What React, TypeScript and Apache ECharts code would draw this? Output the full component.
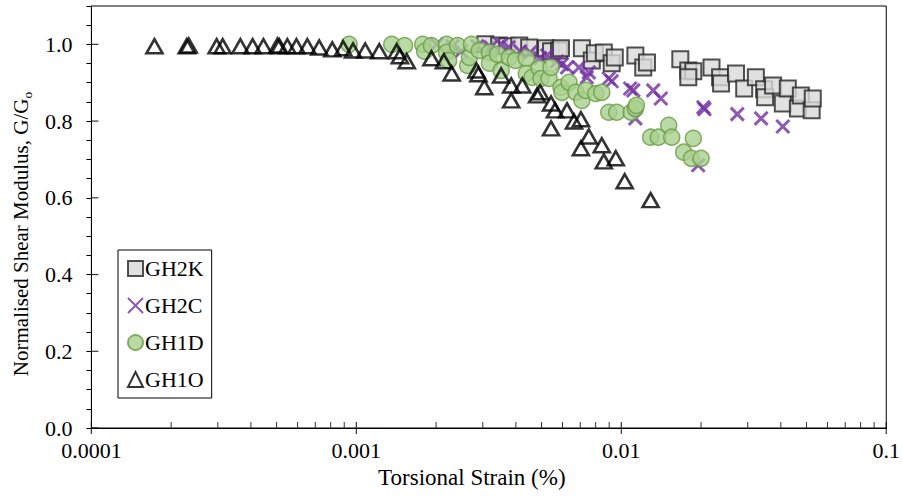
import React, { useEffect, useRef } from "react";
import * as echarts from "echarts";

// [torsional strain (%), G/Go]
const GH2K: [number, number][] = [
  [0.00307, 1.0], [0.00346, 0.997], [0.00371, 0.995], [0.00412, 0.997], [0.00449, 0.992],
  [0.0052, 0.99], [0.00543, 0.982], [0.00582, 0.984], [0.00592, 0.99], [0.0071, 0.99],
  [0.00774, 0.958], [0.00795, 0.977], [0.00859, 0.979], [0.0092, 0.951], [0.00945, 0.966],
  [0.0113, 0.971], [0.0121, 0.94], [0.0125, 0.953], [0.0167, 0.961], [0.0179, 0.932],
  [0.0187, 0.93], [0.0179, 0.914], [0.0219, 0.94], [0.0236, 0.914], [0.0238, 0.898],
  [0.0271, 0.924], [0.0291, 0.885], [0.0322, 0.914], [0.0346, 0.883], [0.0349, 0.862],
  [0.0374, 0.893], [0.0407, 0.846], [0.0425, 0.885], [0.0464, 0.833], [0.0476, 0.867],
  [0.0523, 0.828], [0.0528, 0.859],
];

const GH2C: [number, number][] = [
  [0.00201, 1.0], [0.00231, 0.995], [0.00249, 0.982], [0.00286, 0.995], [0.00321, 0.992],
  [0.00352, 1.0], [0.00375, 0.992], [0.00415, 0.982], [0.00453, 0.979], [0.00494, 0.964],
  [0.00525, 0.971], [0.00572, 0.956], [0.00597, 0.948], [0.00624, 0.94], [0.00692, 0.94],
  [0.00754, 0.927], [0.00741, 0.914], [0.00897, 0.911], [0.0092, 0.904], [0.0108, 0.885],
  [0.0111, 0.88], [0.0113, 0.807], [0.0132, 0.88], [0.0141, 0.859], [0.0195, 0.685],
  [0.0204, 0.836], [0.0206, 0.831], [0.0274, 0.818], [0.0337, 0.807], [0.0407, 0.786],
];

const GH1D: [number, number][] = [
  [0.000939, 1.0], [0.00136, 1.0], [0.00152, 0.997], [0.00178, 1.0], [0.00181, 0.982],
  [0.00192, 0.997], [0.00219, 1.0], [0.00219, 0.979], [0.00223, 0.958], [0.00241, 0.997],
  [0.00263, 0.945], [0.00267, 0.966], [0.00272, 1.0], [0.00291, 0.984], [0.00318, 0.979],
  [0.00318, 0.951], [0.00341, 0.974], [0.00352, 0.932], [0.00378, 0.966], [0.00398, 0.958],
  [0.00438, 0.964], [0.00438, 0.924], [0.00461, 0.914], [0.0049, 0.938], [0.00498, 0.911],
  [0.00534, 0.911], [0.00543, 0.94], [0.00592, 0.888], [0.00597, 0.875], [0.00635, 0.901],
  [0.00674, 0.875], [0.0071, 0.854], [0.00735, 0.88], [0.00801, 0.872], [0.00844, 0.875],
  [0.00897, 0.823], [0.00961, 0.823], [0.0109, 0.823], [0.0113, 0.833], [0.0114, 0.841],
  [0.0129, 0.758], [0.0138, 0.758], [0.0151, 0.789], [0.0155, 0.758], [0.0187, 0.755],
  [0.0172, 0.719], [0.0184, 0.703], [0.02, 0.703],
];

const GH1O: [number, number][] = [
  [0.000173, 0.995], [0.000229, 0.995], [0.000233, 0.997], [0.000297, 0.995], [0.000313, 0.995],
  [0.000365, 0.995], [0.000406, 0.995], [0.000446, 0.995], [0.000504, 0.997], [0.000512, 0.995],
  [0.000549, 0.995], [0.000594, 0.995], [0.000653, 0.995], [0.000724, 0.992], [0.000811, 0.987],
  [0.000892, 0.99], [0.000972, 0.984], [0.00108, 0.984], [0.00122, 0.982], [0.00142, 0.982],
  [0.00146, 0.969], [0.00155, 0.956], [0.00192, 0.964], [0.00214, 0.956], [0.00229, 0.924],
  [0.00284, 0.932], [0.00289, 0.922], [0.00304, 0.888], [0.00352, 0.919], [0.00384, 0.893],
  [0.00423, 0.893], [0.00384, 0.854], [0.00481, 0.867], [0.00494, 0.875], [0.00543, 0.846],
  [0.00562, 0.828], [0.00624, 0.828], [0.00543, 0.781], [0.00663, 0.799], [0.00704, 0.805],
  [0.00754, 0.76], [0.00704, 0.729], [0.00844, 0.737], [0.00859, 0.695], [0.00953, 0.703],
  [0.0103, 0.643], [0.0129, 0.594],
];

const seriesNames = ["GH2K", "GH2C", "GH1D", "GH1O"];
const xTickLabels = ["0.0001", "0.001", "0.01", "0.1"];
const xMajorTicks = [0.0001, 0.001, 0.01, 0.1];
const xMinorMultipliers = [2, 3, 4, 5, 6, 7, 8, 9];
const yMajorTicks = [0, 0.2, 0.4, 0.6, 0.8, 1.0];

const FONT = "'Liberation Serif', 'Times New Roman', serif";

export default function App() {
  const ref = useRef<HTMLDivElement>(null);
  useEffect(() => {
    if (!ref.current) return;
    const chart = echarts.init(ref.current, null, { renderer: "svg" });
    const xMinor: number[][] = [];
    xMajorTicks.slice(0, 3).forEach((d) =>
      xMinorMultipliers.forEach((m) => xMinor.push([d * m, 0]))
    );
    const tickSeriesBase = {
      type: "scatter",
      symbol: "rect",
      silent: true,
      clip: false,
      z: 10,
      itemStyle: { color: "#000" },
      emphasis: { disabled: true },
    };
    chart.setOption({
      animation: false,
      backgroundColor: "#fff",
      grid: {
        left: 90,
        right: 14,
        top: 6,
        bottom: 70,
        show: true,
        borderColor: "#000",
        borderWidth: 1,
        backgroundColor: "transparent",
      },
      legend: {
        data: seriesNames,
        orient: "vertical",
        left: 118,
        top: 250,
        padding: [7, 8, 7, 9],
        itemGap: 14,
        itemWidth: 15,
        itemHeight: 15,
        borderColor: "#000",
        borderWidth: 1,
        backgroundColor: "#fff",
        selectedMode: false,
        textStyle: { fontFamily: FONT, fontSize: 22, color: "#000", lineHeight: 23, padding: [0, 0, 0, -3] },
      },
      xAxis: {
        type: "log",
        logBase: 10,
        min: 0.0001,
        max: 0.1,
        name: "Torsional Strain (%)",
        nameLocation: "middle",
        nameGap: 38,
        nameTextStyle: { fontFamily: FONT, fontSize: 23, color: "#000", padding: [0, 34, 0, 0] },
        axisLine: { show: true, onZero: false, lineStyle: { color: "#000", width: 1 } },
        axisTick: { show: false },
        splitLine: { show: false },
        minorTick: { show: false },
        axisLabel: {
          fontFamily: FONT,
          fontSize: 22,
          color: "#000",
          margin: 11,
          formatter: (v: number) => {
            const e = Math.round(Math.log10(v));
            return xTickLabels[e + 4] ?? "";
          },
        },
      },
      yAxis: {
        type: "value",
        min: 0,
        max: 1.1,
        interval: 0.05,
        name: "Normalised Shear Modulus, G/G{sub|o}",
        nameLocation: "middle",
        nameGap: 54,
        nameTextStyle: {
          fontFamily: FONT,
          fontSize: 21,
          color: "#000",
          lineHeight: 26,
          padding: [0, 34, 0, 0],
          rich: {
            sub: { fontFamily: FONT, fontSize: 13.5, color: "#000", verticalAlign: "bottom", lineHeight: 13 },
          },
        },
        axisLine: { show: true, lineStyle: { color: "#000", width: 1 } },
        axisTick: { show: true, length: 5, lineStyle: { color: "#000", width: 1 } },
        splitLine: { show: false },
        axisLabel: {
          fontFamily: FONT,
          fontSize: 22,
          color: "#000",
          margin: 19,
          formatter: (v: number) => {
            const k = Math.round(v * 20);
            return k % 4 === 0 && k <= 20 ? (k / 20).toFixed(1) : "";
          },
        },
      },
      series: [
        {
          name: "GH2K",
          type: "scatter",
          data: GH2K,
          symbol: "rect",
          symbolSize: 16,
          itemStyle: { color: "#d9d9d9", borderColor: "#262626", borderWidth: 2 },
        },
        {
          name: "GH2C",
          type: "scatter",
          data: GH2C,
          symbol: "path://M0,0L10,10M10,0L0,10",
          symbolSize: 13,
          itemStyle: { color: "rgba(0,0,0,0)", borderColor: "#7030a0", borderWidth: 3 },
        },
        {
          name: "GH1D",
          type: "scatter",
          data: GH1D,
          symbol: "circle",
          symbolSize: 16,
          itemStyle: { color: "#a9d18e", borderColor: "#6a9b45", borderWidth: 1.5 },
        },
        {
          name: "GH1O",
          type: "scatter",
          data: GH1O,
          symbol: "triangle",
          symbolSize: [16, 14],
          itemStyle: { color: "rgba(255,255,255,0)", borderColor: "#000", borderWidth: 2.6 },
        },
        {
          ...tickSeriesBase,
          name: "xMinorTicks",
          data: xMinor,
          symbolSize: [1, 6],
          symbolOffset: [0, -3],
        },
        {
          ...tickSeriesBase,
          name: "xMajorTicks",
          data: xMajorTicks.map((v) => [v, 0]),
          symbolSize: [1.2, 12],
        },
        {
          ...tickSeriesBase,
          name: "yMajorTicks",
          data: yMajorTicks.map((v) => [0.0001, v]),
          symbolSize: [7, 1.2],
          symbolOffset: [3.5, 0],
        },
      ],
    });
    return () => chart.dispose();
  }, []);
  return (
    <div
      ref={ref}
      style={{ position: "fixed", left: 0, top: 0, width: 903, height: 498, background: "#fff" }}
    />
  );
}
